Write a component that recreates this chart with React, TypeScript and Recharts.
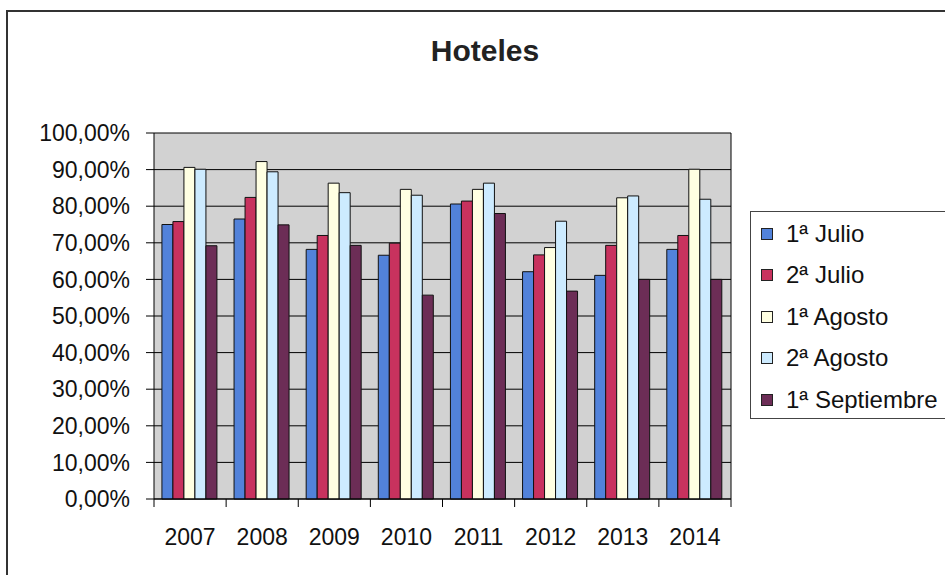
import React from "react";
import { BarChart, Bar, XAxis, YAxis, CartesianGrid } from "recharts";

const years = ["2007", "2008", "2009", "2010", "2011", "2012", "2013", "2014"];
const julio1 = [75.0, 76.5, 68.2, 66.6, 80.6, 62.1, 61.1, 68.2];
const julio2 = [75.8, 82.4, 72.0, 69.9, 81.4, 66.7, 69.3, 72.0];
const agosto1 = [90.6, 92.2, 86.3, 84.6, 84.6, 68.7, 82.3, 90.1];
const agosto2 = [90.1, 89.4, 83.7, 83.0, 86.3, 75.9, 82.8, 81.9];
const septiembre1 = [69.2, 74.9, 69.3, 55.7, 78.0, 56.8, 60.0, 60.0];
const yTicks = [0, 10, 20, 30, 40, 50, 60, 70, 80, 90, 100];

const series = [
  { key: "j1", name: "1ª Julio", values: julio1, color: "#5282DA" },
  { key: "j2", name: "2ª Julio", values: julio2, color: "#C8325E" },
  { key: "a1", name: "1ª Agosto", values: agosto1, color: "#FFFFE2" },
  { key: "a2", name: "2ª Agosto", values: agosto2, color: "#CDEBFF" },
  { key: "s1", name: "1ª Septiembre", values: septiembre1, color: "#6C2D56" },
];

const data = years.map((year, i) => {
  const row: Record<string, string | number> = { year };
  series.forEach((s) => (row[s.key] = s.values[i]));
  return row;
});

const FONT = "Arial, 'Liberation Sans', sans-serif";
const pct = (v: number) => v.toFixed(2).replace(".", ",") + "%";

// tick marks sit between the categories, like the spreadsheet chart
const YearTick = (props: any) => {
  const { x, y, payload, index, visibleTicksCount } = props;
  const half = payload.offset ?? 0;
  const axisY = y - 30;
  const last = index === visibleTicksCount - 1;
  return (
    <g>
      <line x1={x - half} x2={x - half} y1={axisY} y2={axisY + 8} stroke="#000" />
      {last && <line x1={x + half} x2={x + half} y1={axisY} y2={axisY + 8} stroke="#000" />}
      <text x={x} y={y} dy="0.71em" textAnchor="middle" fill="#111" fontSize={23} fontFamily={FONT}>
        {payload.value}
      </text>
    </g>
  );
};

export default function App() {
  return (
    <div style={{ position: "absolute", left: 0, top: 0, width: 945, height: 575, overflow: "hidden", background: "#fff" }}>
      <div
        style={{
          position: "absolute",
          left: 6,
          top: 10,
          width: 945,
          height: 575,
          borderLeft: "2px solid #333",
          borderTop: "2px solid #333",
        }}
      />
      <div
        style={{
          position: "absolute",
          left: 0,
          width: 970,
          top: 34,
          textAlign: "center",
          fontFamily: FONT,
          fontWeight: "bold",
          fontSize: 30,
          color: "#222",
        }}
      >
        Hoteles
      </div>
      <div style={{ position: "absolute", left: 0, top: 0 }}>
        <BarChart
          width={945}
          height={575}
          data={data}
          margin={{ top: 133, right: 214, bottom: 0, left: 0 }}
          barCategoryGap="11%"
          barGap={0}
        >
          <CartesianGrid
            fill="#D2D2D2"
            fillOpacity={1}
            stroke="#000"
            strokeOpacity={1}
            verticalCoordinatesGenerator={({ offset }: any) => [offset.left + offset.width]}
          />
          <XAxis
            dataKey="year"
            height={76}
            tickSize={8}
            tickMargin={22}
            tickLine={false}
            axisLine={{ stroke: "#000" }}
            tick={<YearTick />}
            interval={0}
          />
          <YAxis
            width={154}
            domain={[0, 100]}
            ticks={yTicks}
            tickFormatter={pct}
            tickSize={8}
            tickMargin={16}
            axisLine={{ stroke: "#000" }}
            tickLine={{ stroke: "#000" }}
            tick={{ fill: "#111", fontSize: 23, fontFamily: FONT }}
          />
          {series.map((s) => (
            <Bar
              key={s.key}
              dataKey={s.key}
              name={s.name}
              fill={s.color}
              stroke="#111"
              strokeWidth={1}
              isAnimationActive={false}
            />
          ))}
        </BarChart>
      </div>
      <div
        style={{
          position: "absolute",
          left: 750,
          top: 211,
          width: 210,
          height: 208,
          border: "1.5px solid #444",
          boxSizing: "border-box",
          background: "#fff",
          fontFamily: FONT,
          fontSize: 24,
          color: "#111",
          paddingTop: 1,
        }}
      >
        {series.map((s) => (
          <div key={s.key} style={{ height: 41.5, display: "flex", alignItems: "center", whiteSpace: "nowrap" }}>
            <span
              style={{
                display: "inline-block",
                width: 10,
                height: 10,
                marginLeft: 10,
                marginRight: 13,
                background: s.color,
                border: "1px solid #222",
              }}
            />
            {s.name}
          </div>
        ))}
      </div>
    </div>
  );
}
